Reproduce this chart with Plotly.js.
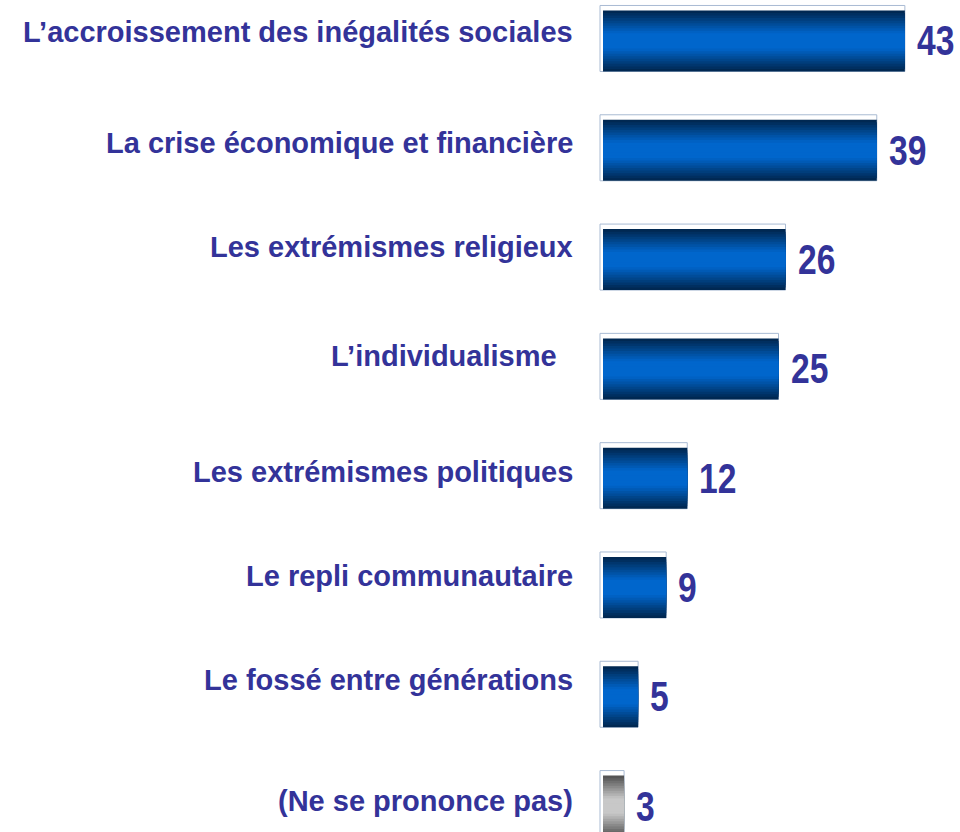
<!DOCTYPE html>
<html>
<head>
<meta charset="utf-8">
<script src="https://cdn.plot.ly/plotly-3.0.1.min.js"></script>
<style>
html,body{margin:0;padding:0;background:#fff;}
#chart{width:960px;height:832px;}
.narrow-text{transform-box:fill-box;transform-origin:0% 50%;transform:scaleX(0.8);}
</style>
</head>
<body>
<div id="chart"></div>
<script>
// ---- data ----
const categories = [
  "L’accroissement des inégalités sociales",
  "La crise économique et financière",
  "Les extrémismes religieux",
  "L’individualisme",
  "Les extrémismes politiques",
  "Le repli communautaire",
  "Le fossé entre générations",
  "(Ne se prononce pas)"
];
const values = [43, 39, 26, 25, 12, 9, 5, 3];
const valueLabels = ["43", "39", "26", "25", "12", "9", "5", "3"];
const isNoOpinion = [false, false, false, false, false, false, false, true];

// ---- style ----
const textColor = "#333399";
const blueDark = [0, 40, 82], blueBright = [0, 102, 204];
const grayDark = [85, 85, 85], grayBright = [200, 200, 200];
const nLayers = 12;
const fullWidth = 0.558;
const labelShift = [9, 7, 13, 13, 6, 11, 17, 5];
const labelSuffix = ["", "", "", "\u00a0\u00a0", "", "", "", ""];

function mix(a, b, t) {
  return "rgb(" + a.map((v, i) => Math.round(v + (b[i] - v) * t)).join(",") + ")";
}

const traces = [];
// light frame behind each bar (top and left edges visible)
traces.push({
  type: "bar", orientation: "h",
  y: categories, x: values.map(v => v + 0.43), base: -0.43,
  width: 0.604, offset: -0.325,
  marker: {color: "rgba(255,255,255,0)", line: {color: "#a9bbd3", width: 1}},
  hoverinfo: "skip", showlegend: false
});
// gradient layers (dark edges, bright centre)
for (let k = 0; k < nLayers; k++) {
  const w = fullWidth * (1 - k / nLayers);
  const t = Math.min(1, k / (nLayers * 0.72));
  traces.push({
    type: "bar", orientation: "h",
    y: categories, x: values, width: w,
    marker: {color: isNoOpinion.map(g => g ? mix(grayDark, grayBright, t) : mix(blueDark, blueBright, t)), line: {width: 0}},
    hoverinfo: "skip", showlegend: false
  });
}

const annotations = [];
categories.forEach((c, i) => {
  annotations.push({
    xref: "paper", yref: "y", x: 0, y: c, xanchor: "right", yanchor: "middle",
    xshift: -21, yshift: labelShift[i], showarrow: false,
    text: c + labelSuffix[i],
    font: {family: "Liberation Sans, Arial, sans-serif", size: 29, color: textColor, weight: "bold"}
  });
  annotations.push({
    xref: "x", yref: "y", x: values[i], y: c, xanchor: "left", yanchor: "middle",
    xshift: 10, yshift: 0, showarrow: false,
    text: valueLabels[i],
    font: {family: "Liberation Sans, Arial, sans-serif", size: 42, color: textColor, weight: "bold"}
  });
});

const layout = {
  width: 960, height: 832,
  margin: {l: 596, r: 6, t: 0, b: 0},
  paper_bgcolor: "#ffffff", plot_bgcolor: "#ffffff",
  barmode: "overlay",
  showlegend: false,
  xaxis: {range: [-1, 50], visible: false, fixedrange: true},
  yaxis: {type: "category", range: [7.237, -0.375], visible: false, fixedrange: true},
  annotations: annotations
};

Plotly.newPlot("chart", traces, layout, {displayModeBar: false, staticPlot: true}).then(gd => {
  gd.querySelectorAll("g.annotation").forEach(g => {
    const idx = parseInt(g.getAttribute("data-index"), 10);
    if (idx % 2 === 1) {
      const t = g.querySelector("text");
      if (t) t.classList.add("narrow-text");
    }
  });
});
</script>
</body>
</html>
